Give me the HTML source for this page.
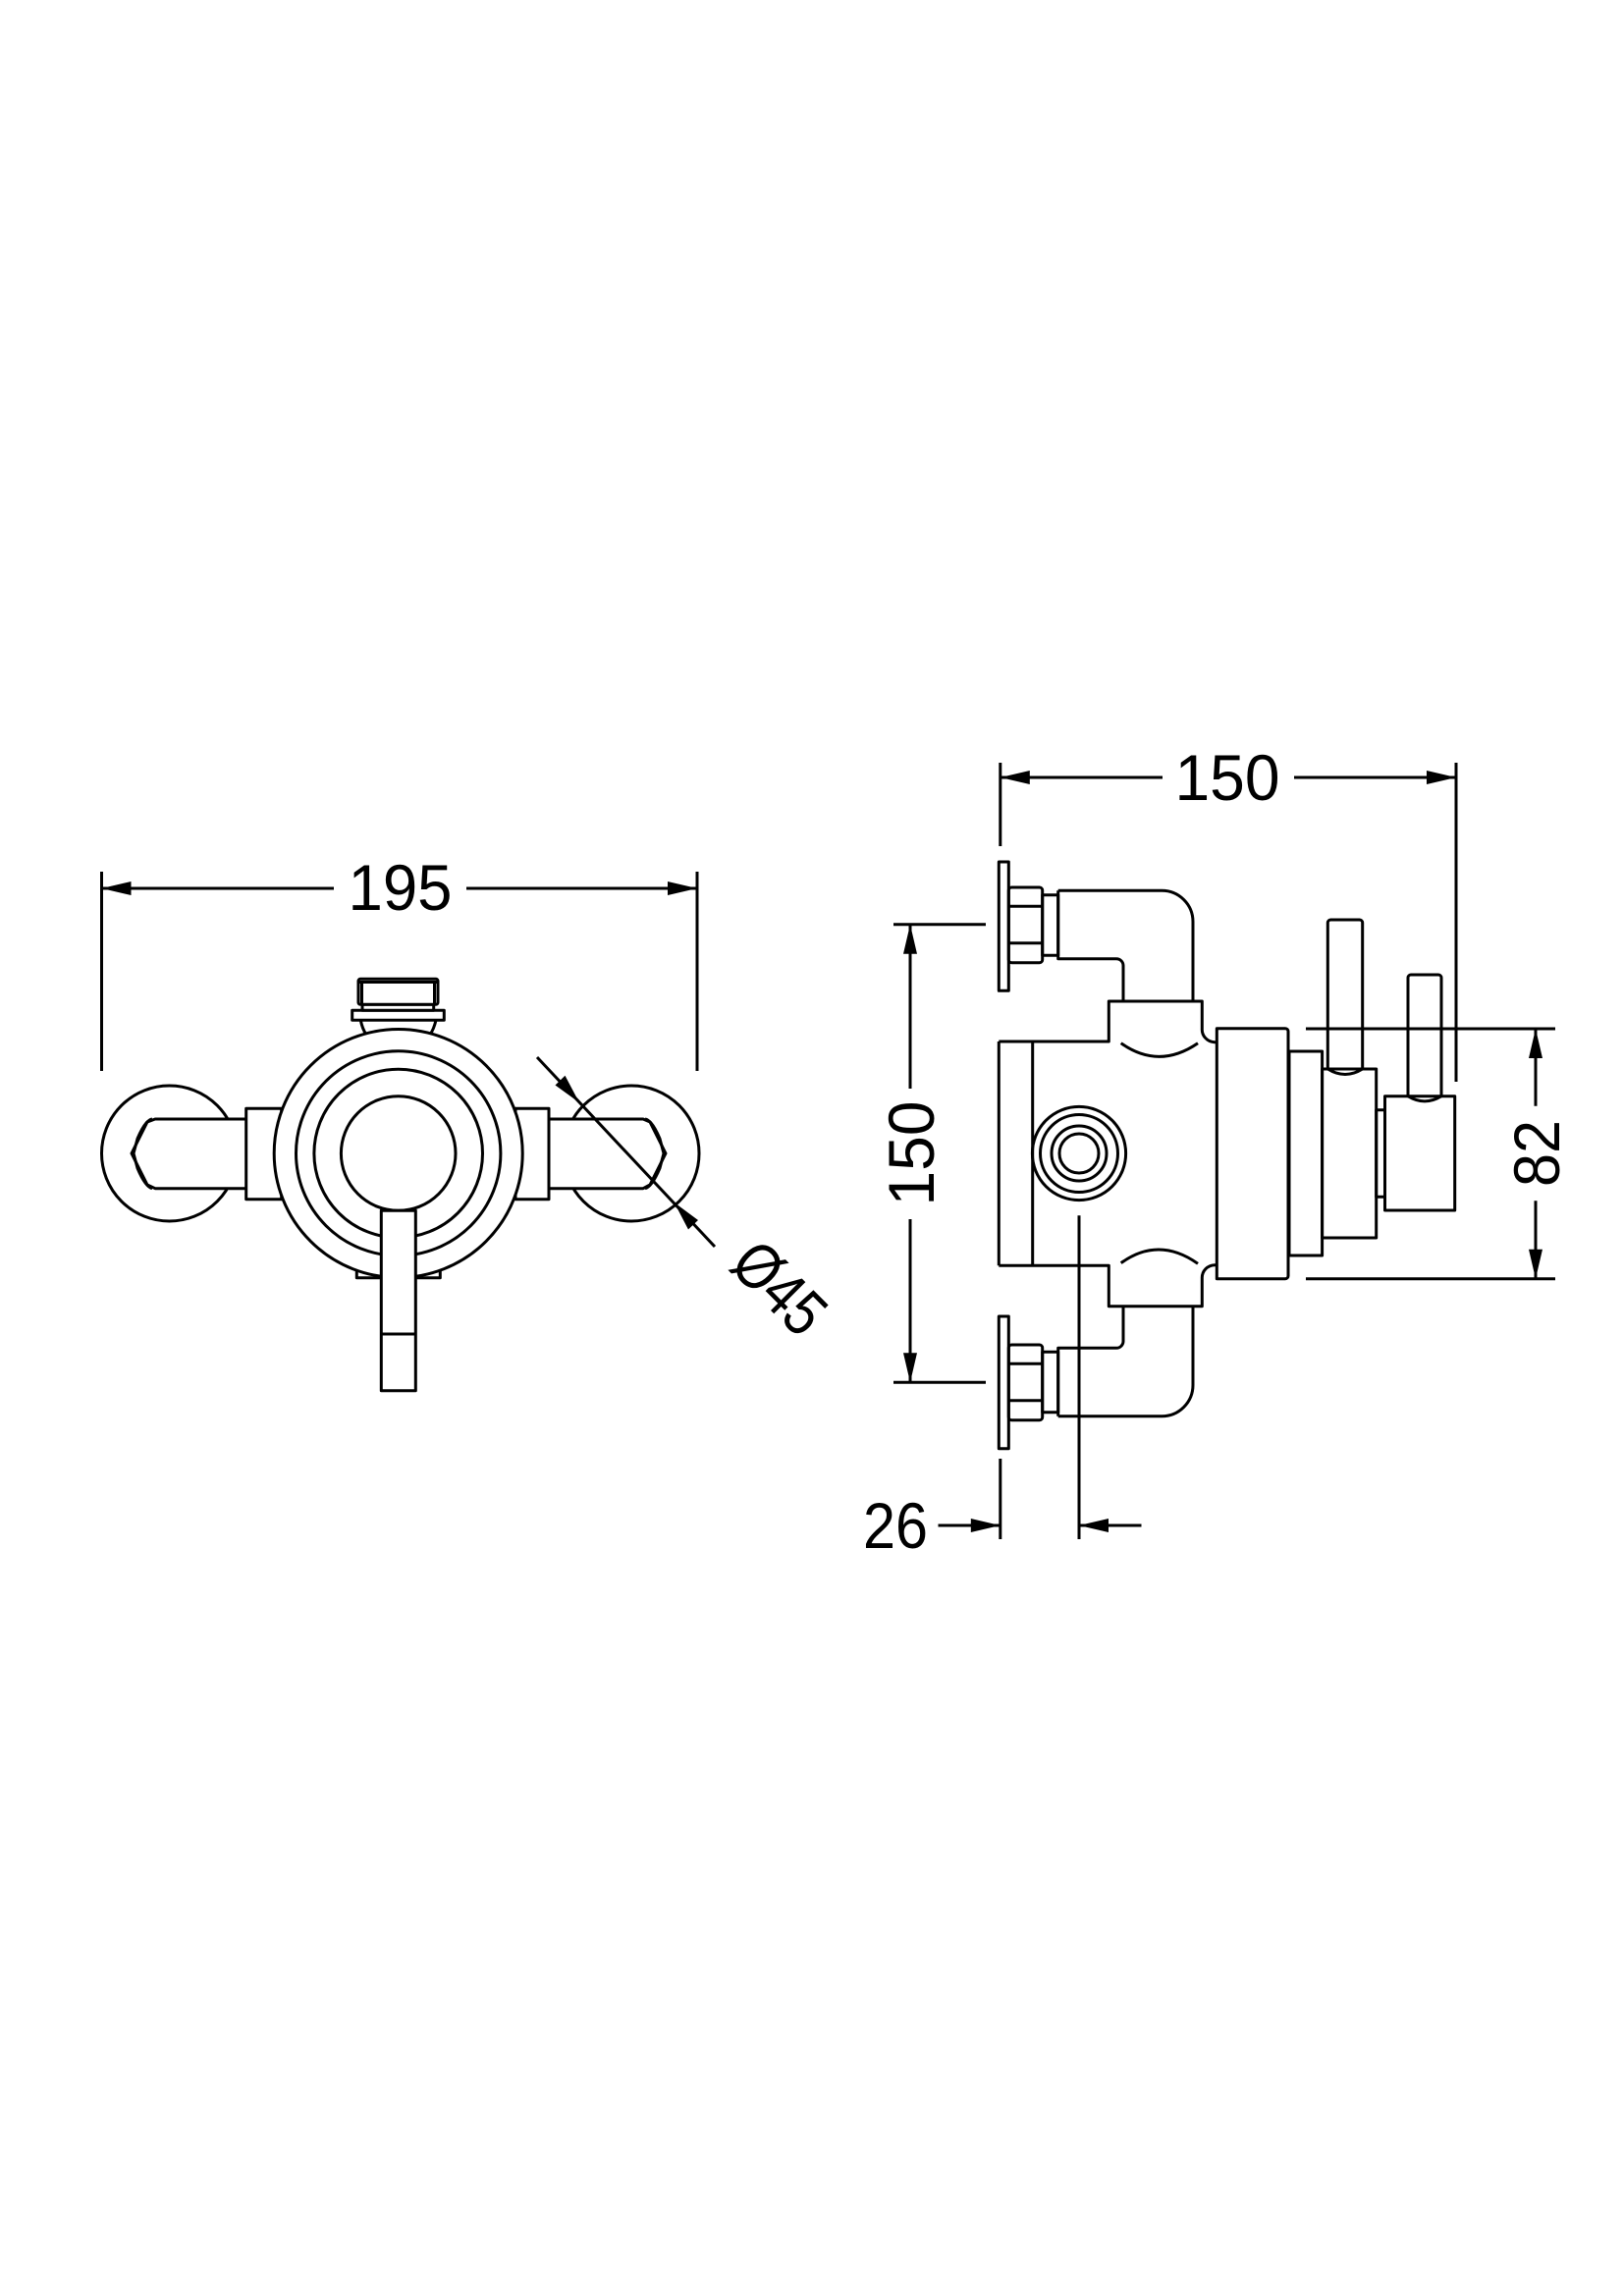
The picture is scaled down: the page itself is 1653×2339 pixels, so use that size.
<!DOCTYPE html>
<html><head><meta charset="utf-8"><style>
html,body{margin:0;padding:0;background:#fff;}
svg{display:block;}
text{font-family:"Liberation Sans",sans-serif;fill:#000;}
</style></head><body>
<svg width="1653" height="2339" viewBox="0 0 1653 2339" xmlns="http://www.w3.org/2000/svg">
<g fill="none" stroke="#000" stroke-width="3" stroke-linejoin="round">
<line x1="103.5" y1="888" x2="103.5" y2="1091"/>
<line x1="710" y1="888" x2="710" y2="1091"/>
<line x1="103.5" y1="905" x2="340" y2="905"/>
<line x1="475" y1="905" x2="710" y2="905"/>
<circle cx="172.5" cy="1175" r="69"/>
<circle cx="643" cy="1175" r="69"/>
<path d="M250.7 1140 H158 L150 1143 L134 1175 L150 1207 L158 1210.7 H250.7" fill="#fff"/>
<path d="M155 1140 Q148 1141 140 1160 L136 1175 L140 1190 Q148 1209 155 1210.7" />
<path d="M559 1140 H655 L662 1143 L678 1175 L662 1207 L655 1210.7 H559" fill="#fff"/>
<path d="M657 1140 Q664 1141 672 1160 L676 1175 L672 1190 Q664 1209 657 1210.7"/>
<rect x="250.7" y="1129.3" width="36" height="92.4" fill="#fff"/>
<rect x="525" y="1129.3" width="34" height="92.4" fill="#fff"/>
<path d="M367.3 1039.3 Q369 1048 373 1054 M444 1039.3 Q442 1048 438 1054"/>
<rect x="358.7" y="1029.3" width="93.6" height="10" fill="#fff"/>
<rect x="369" y="1023.3" width="72.7" height="6" fill="#fff"/>
<rect x="365" y="997.3" width="81" height="26" rx="2" fill="#fff"/>
<line x1="368.5" y1="1000" x2="368.5" y2="1023"/>
<line x1="442.5" y1="1000" x2="442.5" y2="1023"/>
<line x1="366" y1="1000.5" x2="445" y2="1000.5"/>
<rect x="363.3" y="1294" width="85" height="7.7"/>
<circle cx="405.7" cy="1175" r="126.5" fill="#fff"/>
<circle cx="405.7" cy="1175" r="104.2"/>
<circle cx="405.7" cy="1175" r="85.8"/>
<circle cx="405.7" cy="1175" r="58.3"/>
<rect x="388.3" y="1233.3" width="35" height="183.4" fill="#fff"/>
<line x1="388.3" y1="1359" x2="423.3" y2="1359"/>
<line x1="547" y1="1077" x2="728" y2="1270"/>
</g>
<g fill="#000" stroke="none">
<polygon points="103.5,905 133.5,898 133.5,912"/>
<polygon points="710,905 680,898 680,912"/>
<polygon points="590,1123.3 565.5,1105.5 575.5,1095.7"/>
<polygon points="686.7,1225 711,1243 701,1252.5"/>
</g>
<text x="407.5" y="927" font-size="66" text-anchor="middle" textLength="106" lengthAdjust="spacingAndGlyphs">195</text>
<text x="0" y="0" font-size="66" text-anchor="middle" textLength="104" lengthAdjust="spacingAndGlyphs" transform="translate(778,1328) rotate(45)">Ø45</text>

<g fill="none" stroke="#000" stroke-width="3" stroke-linejoin="round">
<line x1="1018.8" y1="777" x2="1018.8" y2="862"/>
<line x1="1483" y1="777" x2="1483" y2="1102"/>
<line x1="1018.8" y1="792" x2="1184" y2="792"/>
<line x1="1318" y1="792" x2="1483" y2="792"/>
<line x1="910" y1="941.7" x2="1004" y2="941.7"/>
<line x1="910" y1="1408.3" x2="1004" y2="1408.3"/>
<line x1="927" y1="941.7" x2="927" y2="1109"/>
<line x1="927" y1="1242" x2="927" y2="1408.3"/>
<line x1="1330" y1="1048" x2="1584" y2="1048"/>
<line x1="1330" y1="1302.7" x2="1584" y2="1302.7"/>
<line x1="1564" y1="1048" x2="1564" y2="1126.7"/>
<line x1="1564" y1="1223.3" x2="1564" y2="1302.7"/>
<line x1="1018.8" y1="1486" x2="1018.8" y2="1568"/>
<line x1="1099" y1="1238.3" x2="1099" y2="1568"/>
<line x1="955.5" y1="1554" x2="1018.8" y2="1554"/>
<line x1="1099" y1="1554" x2="1162.5" y2="1554"/>
<rect x="1017.3" y="878" width="10" height="131.3"/>
<rect x="1017.3" y="1341" width="10" height="134.7"/>
<rect x="1027.3" y="904" width="34.4" height="76.7" rx="3"/>
<line x1="1027.3" y1="923.3" x2="1061.7" y2="923.3"/>
<line x1="1027.3" y1="960.7" x2="1061.7" y2="960.7"/>
<rect x="1027.3" y="1370" width="34.4" height="76.7" rx="3"/>
<line x1="1027.3" y1="1389.3" x2="1061.7" y2="1389.3"/>
<line x1="1027.3" y1="1426.7" x2="1061.7" y2="1426.7"/>
<rect x="1061.7" y="911.7" width="16" height="61.6"/>
<rect x="1061.7" y="1377.3" width="16" height="61.4"/>
<path d="M1077.7 907.3 H1183.3 A31.7 31.7 0 0 1 1215 939 V1020"/>
<path d="M1077.7 907.3 V976.7 H1137 A7 7 0 0 1 1144 983.7 V1020"/>
<path d="M1077.7 1442.7 H1183.3 A31.7 31.7 0 0 0 1215 1411 V1330.7"/>
<path d="M1077.7 1442.7 V1373.3 H1137 A7 7 0 0 0 1144 1366.3 V1330.7"/>
<path d="M1017.3 1061 H1129.3 V1020 H1224.3 V1048 A13 13 0 0 0 1237 1061.7 H1239.3"/>
<path d="M1017.3 1289.3 H1129.3 V1330.7 H1224.3 V1302 A13 13 0 0 1 1237 1288.7 H1239.3"/>
<line x1="1017.3" y1="1061" x2="1017.3" y2="1289.3"/>
<line x1="1051.7" y1="1061" x2="1051.7" y2="1289.3"/>
<path d="M1141.7 1062.7 Q1180 1090 1220 1062.7"/>
<path d="M1141.7 1286.7 Q1180 1259 1220 1287.3"/>
<circle cx="1099" cy="1175" r="47.6"/>
<circle cx="1099" cy="1175" r="39.5"/>
<circle cx="1099" cy="1175" r="28"/>
<circle cx="1099" cy="1175" r="20"/>
<path d="M1239.3 1047.7 H1309 A3 3 0 0 1 1312 1050.7 V1299.7 A3 3 0 0 1 1309 1302.7 H1239.3 Z"/>
<rect x="1313" y="1071" width="33.6" height="208"/>
<rect x="1346.6" y="1089" width="55.1" height="172"/>
<rect x="1401.7" y="1130.7" width="8.8" height="88.6"/>
<rect x="1410.5" y="1116.7" width="71.2" height="116.3"/>
<path d="M1352.3 1089 V940 A3 3 0 0 1 1355.3 937 H1384.7 A3 3 0 0 1 1387.7 940 V1089"/>
<path d="M1352.3 1089 Q1370 1100 1387.7 1089"/>
<path d="M1434 1116.7 V996 A3 3 0 0 1 1437 993 H1465 A3 3 0 0 1 1468 996 V1116.7"/>
<path d="M1434 1116.7 Q1451 1127 1468 1116.7"/>
</g>
<g fill="#000" stroke="none">
<polygon points="1018.8,792 1048.8,785 1048.8,799"/>
<polygon points="1483,792 1453,785 1453,799"/>
<polygon points="927,941.7 920,971.7 934,971.7"/>
<polygon points="927,1408.3 920,1378.3 934,1378.3"/>
<polygon points="1564,1048 1557,1078 1571,1078"/>
<polygon points="1564,1302.7 1557,1272.7 1571,1272.7"/>
<polygon points="1018.8,1554 988.8,1547 988.8,1561"/>
<polygon points="1099,1554 1129,1547 1129,1561"/>
</g>
<text x="1250" y="815" font-size="66" text-anchor="middle" textLength="107" lengthAdjust="spacingAndGlyphs">150</text>
<text x="0" y="0" font-size="66" text-anchor="middle" textLength="107" lengthAdjust="spacingAndGlyphs" transform="translate(951,1175) rotate(-90)">150</text>
<text x="0" y="0" font-size="66" text-anchor="middle" textLength="68" lengthAdjust="spacingAndGlyphs" transform="translate(1588,1175) rotate(-90)">82</text>
<text x="912" y="1577" font-size="66" text-anchor="middle" textLength="66" lengthAdjust="spacingAndGlyphs">26</text>
</svg>
</body></html>
